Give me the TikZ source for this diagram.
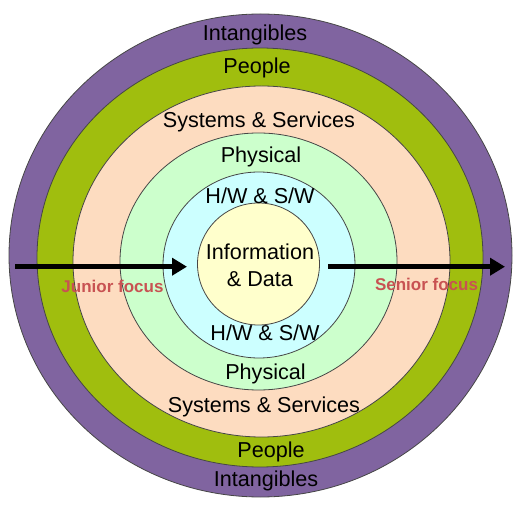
\documentclass[tikz,border=0pt]{standalone}
\usepackage{fontspec}
\setmainfont{Liberation Sans}
\usetikzlibrary{arrows.meta,shapes.geometric}
\definecolor{ringIntang}{RGB}{128,100,160}
\definecolor{ringPeople}{RGB}{160,190,14}
\definecolor{ringSys}{RGB}{253,220,192}
\definecolor{ringPhys}{RGB}{204,255,204}
\definecolor{ringHW}{RGB}{204,255,255}
\definecolor{ringInfo}{RGB}{255,255,204}
\definecolor{ringEdge}{RGB}{70,70,70}
\definecolor{focusRed}{RGB}{200,82,82}
\begin{document}
\begin{tikzpicture}[x=1pt,y=-1pt,
  ring/.style={ellipse,draw=ringEdge,line width=0.8pt,inner sep=0pt},
  lbl/.style={anchor=base,font=\fontsize{21.6}{26}\selectfont,text=black,inner sep=0pt},
  focus/.style={anchor=base,font=\fontsize{17}{20}\selectfont\bfseries,text=focusRed,inner sep=0pt},
  focusarrow/.style={line width=5pt,-{Triangle[length=15pt,width=17pt]}}]
\useasboundingbox (0,0) rectangle (522,510);
% concentric rings, outermost first
\node[ring,fill=ringIntang,minimum width=503pt,minimum height=483pt] (intang) at (260.5,255.5) {};
\node[ring,fill=ringPeople,minimum width=446pt,minimum height=419pt] (people) at (260,257.5) {};
\node[ring,fill=ringSys,minimum width=377pt,minimum height=351pt] (sys) at (261.5,261.5) {};
\node[ring,fill=ringPhys,minimum width=277pt,minimum height=257pt] (phys) at (258.5,261.5) {};
\node[ring,fill=ringHW,minimum width=192pt,minimum height=186pt] (hw) at (259,265) {};
\node[ring,fill=ringInfo,minimum width=122pt,minimum height=122pt] (info) at (258.5,264) {};
% ring labels, upper half
\node[lbl] (tIntang) at (255,41) {Intangibles};
\node[lbl] (tPeople) at (257,74) {People};
\node[lbl] (tSys) at (259,127.7) {Systems \& Services};
\node[lbl] (tPhys) at (261,162.7) {Physical};
\node[lbl] (tHW) at (260,204) {H/W \& S/W};
% centre
\node[lbl] (tInfo1) at (260,260) {Information};
\node[lbl] (tInfo2) at (260,286.7) {\& Data};
% ring labels, lower half
\node[lbl] (bHW) at (265,340.7) {H/W \& S/W};
\node[lbl] (bPhys) at (265.5,380) {Physical};
\node[lbl] (bSys) at (264,412.3) {Systems \& Services};
\node[lbl] (bPeople) at (271,457.7) {People};
\node[lbl] (bIntang) at (266,486.7) {Intangibles};
% focus arrows
\coordinate (jStart) at (15,266.7);
\coordinate (jEnd) at (187,266.7);
\coordinate (sStart) at (328,266.7);
\coordinate (sEnd) at (505,266.7);
\draw[focusarrow] (jStart) -- (jEnd);
\draw[focusarrow] (sStart) -- (sEnd);
\node[focus] (junior) at (112.5,293) {Junior focus};
\node[focus] (senior) at (426.5,291) {Senior focus};
\end{tikzpicture}
\end{document}
